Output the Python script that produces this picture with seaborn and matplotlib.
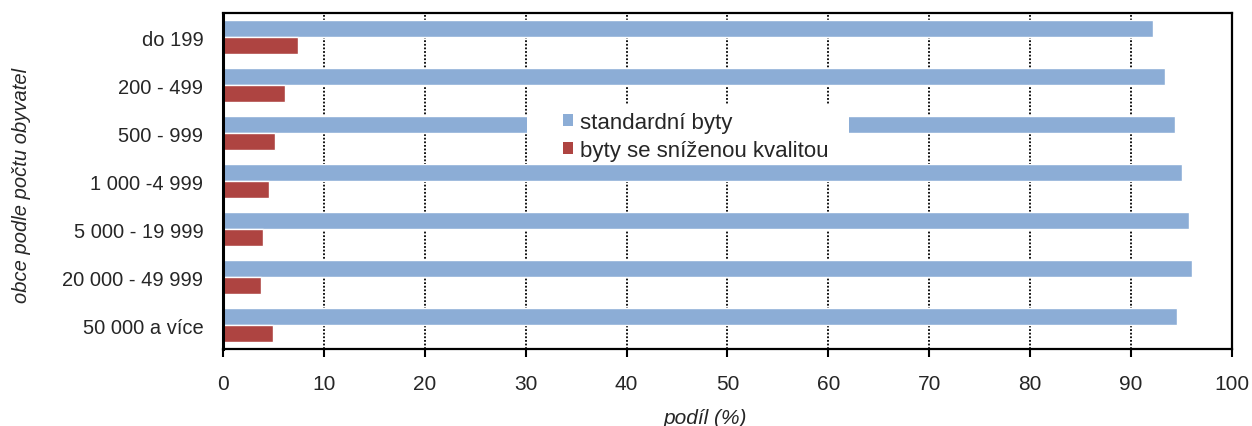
import pandas as pd
import seaborn as sns
import matplotlib.pyplot as plt
from matplotlib.patches import Rectangle

# velikostní skupiny obcí
categories = ["do 199", "200 - 499", "500 - 999", "1 000 -4 999",
              "5 000 - 19 999", "20 000 - 49 999", "50 000 a více"]
standardni = [92.2, 93.4, 94.4, 95.0, 95.7, 96.0, 94.6]
snizena = [7.4, 6.2, 5.2, 4.6, 4.0, 3.8, 5.0]
series_names = ["standardní byty", "byty se sníženou kvalitou"]
colors = ["#8CADD6", "#AE4441"]

df = pd.DataFrame({
    "obec": categories * 2,
    "podil": standardni + snizena,
    "typ": [series_names[0]] * len(categories) + [series_names[1]] * len(categories),
})

sns.set_style("white")
plt.rcParams["font.family"] = ["Liberation Sans", "DejaVu Sans"]

fig = plt.figure(figsize=(12.52, 4.27), dpi=100)
ax = fig.add_axes([0.178, 0.180, 0.806, 0.787])

sns.barplot(data=df, x="podil", y="obec", hue="typ", hue_order=series_names,
            palette=colors, orient="h", width=0.7, ax=ax, saturation=1)

ax.set_xlim(0, 100)
ax.set_xticks(range(0, 101, 10))
ax.xaxis.grid(True, color="black", linestyle=(0, (1, 1)), linewidth=1.3)
ax.set_axisbelow(True)

for side in ["top", "right", "bottom"]:
    ax.spines[side].set_color("black")
    ax.spines[side].set_linewidth(1.6)
ax.spines["left"].set_color("black")
ax.spines["left"].set_linewidth(2.2)

ax.tick_params(axis="x", direction="out", length=6, width=1.5, color="black",
               labelsize=15, pad=12, bottom=True)
ax.tick_params(axis="y", length=0, labelsize=14.5, pad=14)

ax.set_xlabel("podíl (%)", fontsize=15, style="italic")
ax.xaxis.set_label_coords(0.478, -0.175)
ax.set_ylabel("obce podle počtu obyvatel", fontsize=14.5, style="italic")
ax.yaxis.set_label_coords(-0.19, 0.49)

# bílé pozadí legendy přes sloupce (jako v Excelu)
ax.add_patch(Rectangle((30.15, 1.42), 31.9, 1.25, facecolor="white",
                       edgecolor="none", zorder=3))

leg = ax.legend(loc="upper left", bbox_to_anchor=(0.337, 0.705), fontsize=16,
                frameon=False, handlelength=0.45, handleheight=0.45,
                handletextpad=0.3, borderpad=0, borderaxespad=0,
                labelspacing=0.3)
leg.set_zorder(4)
for h in leg.legend_handles:
    h.set_edgecolor("none")

fig.savefig("out.png", dpi=100)
